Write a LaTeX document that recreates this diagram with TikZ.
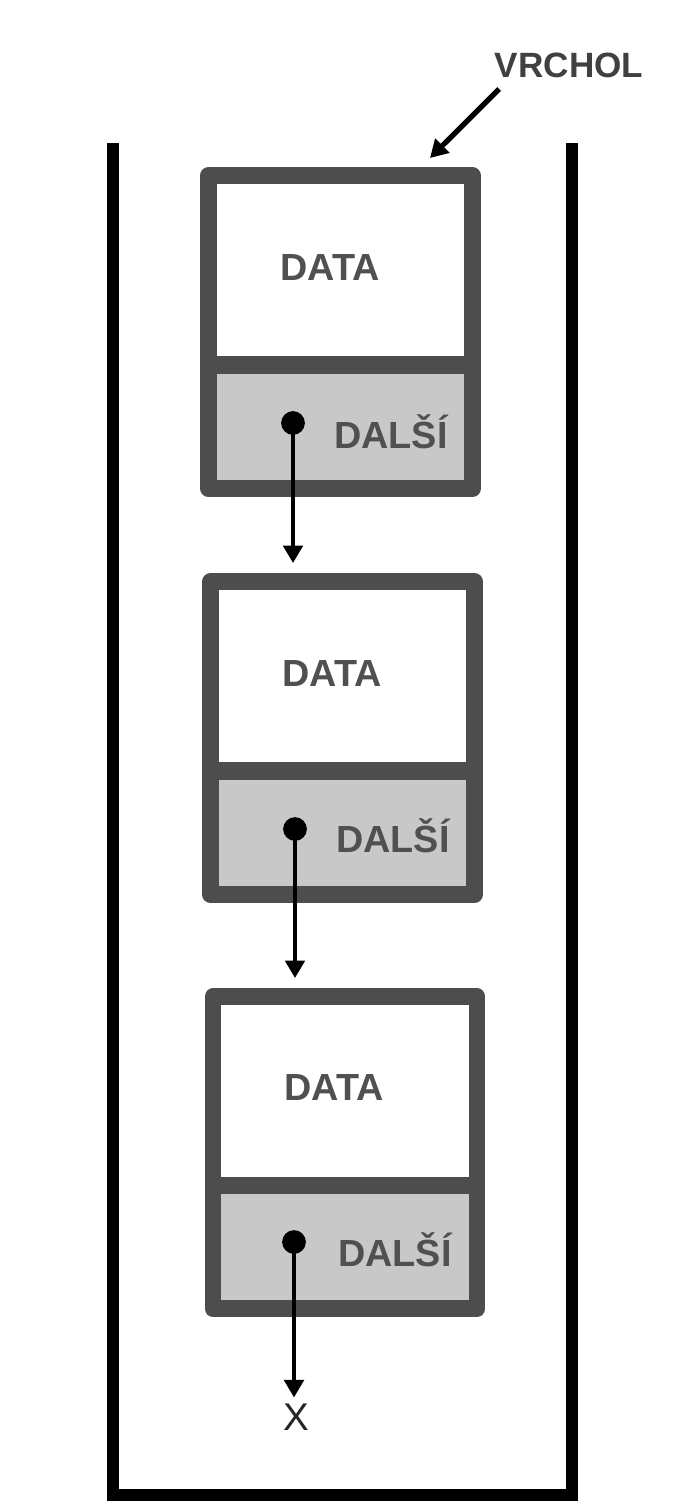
\documentclass[tikz,border=0pt]{standalone}
\usepackage{fontspec}
\setmainfont{Liberation Sans}
\usetikzlibrary{arrows.meta}

\definecolor{frame}{HTML}{4D4D4D}
\definecolor{slot}{HTML}{C8C8C8}
\definecolor{ink}{HTML}{505050}

\begin{document}
\begin{tikzpicture}[x=0.02cm,y=-0.02cm,
  data/.style={draw=frame,fill=white,line width=9.6pt,line join=round,
    minimum width=5.28cm,minimum height=3.78cm,inner sep=0pt},
  next/.style={draw=frame,fill=slot,line width=9.6pt,line join=round,
    minimum width=5.28cm,minimum height=2.47cm,inner sep=0pt},
  txt/.style={font=\fontsize{21.5}{25}\selectfont\bfseries,text=ink},
  dot/.style={circle,fill=black,minimum size=13.5pt,inner sep=0pt},
  ptr/.style={-{Triangle[length=10pt,width=11pt]},line width=2.4pt}]
  \useasboundingbox (0,0) rectangle (688,1511);
  % stack walls
  \draw[line width=6.8pt] (113,143) -- (113,1495) -- (572,1495) -- (572,143);
  % top of stack
  \node[txt,font=\fontsize{20}{24}\selectfont\bfseries,text=black!75] (vrchol) at (569,65) {VRCHOL};
  \coordinate (top) at (430,158);
  % first element
  \node[data,txt] (data1) at (340.5,270) {};
  \node[next] (next1) at (340.5,427) {};
  \node[txt] at (330,268) {DATA};
  \node[txt] (dalsi1) at (391,432) {DALŠÍ};
  \node[dot] (p1) at (293,423) {};
  % second element
  \node[data] (data2) at (342.5,676) {};
  \node[next] (next2) at (342.5,833) {};
  \node[txt] at (332,673) {DATA};
  \node[txt] (dalsi2) at (393,836) {DALŠÍ};
  \node[dot] (p2) at (295,829) {};
  % third element
  \node[data] (data3) at (345,1091) {};
  \node[next] (next3) at (345,1247) {};
  \node[txt] at (334,1087) {DATA};
  \node[txt] (dalsi3) at (395,1250) {DALŠÍ};
  \node[dot] (p3) at (294,1242) {};
  \node[font=\fontsize{22}{26}\selectfont,text=black!85] (nil) at (296,1417) {X};
  % pointers
  \draw[ptr,line width=3pt] ([xshift=6pt,yshift=-3pt]vrchol.south west) -- (top);
  \draw[ptr,shorten >=5.7pt] (p1.center) -- (p1.center |- data2.north);
  \draw[ptr,shorten >=5.7pt] (p2.center) -- (p2.center |- data3.north);
  \draw[ptr] (p3.center) -- (p3.center |- nil.north);
\end{tikzpicture}
\end{document}
